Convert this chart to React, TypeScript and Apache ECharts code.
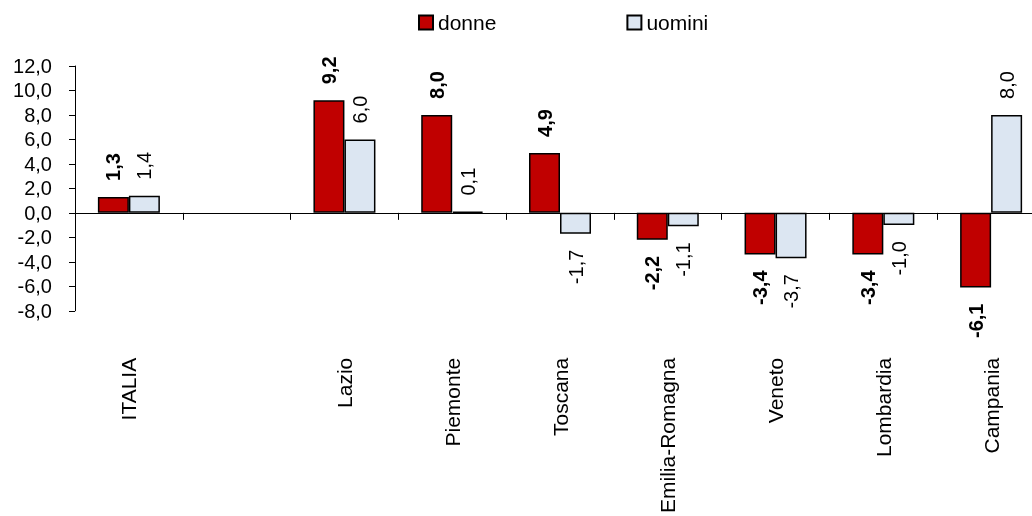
import React, { useEffect, useRef } from "react";
import * as echarts from "echarts";

const categories = ["ITALIA", "", "Lazio", "Piemonte", "Toscana", "Emilia-Romagna", "Veneto", "Lombardia", "Campania"];
const donne = [1.3, null, 9.2, 8.0, 4.9, -2.2, -3.4, -3.4, -6.1];
const uomini = [1.4, null, 6.0, 0.1, -1.7, -1.1, -3.7, -1.0, 8.0];
const seriesNames = ["donne", "uomini"];
const yMin = -8;
const yMax = 12;
const yStep = 2;

const FONT = "'Liberation Sans', Arial, sans-serif";
const fmt = (v: number) => v.toFixed(1).replace(".", ",");

function buildData(values: (number | null)[]) {
  return values.map((v) => {
    if (v === null) return null;
    const pos = v >= 0;
    return {
      value: v,
      label: {
        position: pos ? "top" : "bottom",
        align: pos ? "left" : "right",
        verticalAlign: "middle",
      },
    };
  });
}

export default function App() {
  const ref = useRef<HTMLDivElement>(null);
  useEffect(() => {
    if (!ref.current) return;
    const chart = echarts.init(ref.current, null, { renderer: "svg" });
    const labelBase = {
      show: true,
      rotate: 90,
      distance: 16,
      fontSize: 20,
      color: "#000",
      fontFamily: FONT,
      formatter: (p: any) => fmt(p.value),
    };
    chart.setOption({
      animation: false,
      textStyle: { fontFamily: FONT },
      legend: {
        data: seriesNames,
        left: 413,
        top: 7,
        icon: "rect",
        itemWidth: 14,
        itemHeight: 14,
        itemGap: 130,
        textStyle: { fontSize: 21, color: "#000", fontFamily: FONT },
      },
      grid: { left: 75, right: 0, top: 66, bottom: 199, containLabel: false },
      xAxis: [
        {
          type: "category",
          data: categories,
          boundaryGap: true,
          axisLine: { show: true, onZero: true, lineStyle: { color: "#000", width: 1 } },
          axisTick: { show: true, length: 7, interval: 0, alignWithLabel: false, lineStyle: { color: "#000" } },
          axisLabel: { show: false },
          splitLine: { show: false },
        },
        {
          type: "category",
          data: categories,
          position: "bottom",
          axisLine: { show: false, onZero: false },
          axisTick: { show: false },
          axisLabel: {
            show: true,
            interval: 0,
            rotate: 90,
            margin: 47,
            fontSize: 21,
            color: "#000",
            fontFamily: FONT,
          },
          splitLine: { show: false },
        },
      ],
      yAxis: {
        type: "value",
        min: yMin,
        max: yMax,
        interval: yStep,
        axisLine: { show: true, lineStyle: { color: "#000", width: 1 } },
        axisTick: { show: true, length: 6, lineStyle: { color: "#000" } },
        axisLabel: {
          fontSize: 20,
          color: "#000",
          margin: 23,
          fontFamily: FONT,
          formatter: (v: number) => fmt(v),
        },
        splitLine: { show: false },
      },
      series: [
        {
          name: seriesNames[0],
          type: "bar",
          xAxisIndex: 0,
          data: buildData(donne),
          barWidth: 31,
          barGap: "0%",
          itemStyle: { color: "#C00000", borderColor: "#000", borderWidth: 1.5 },
          label: { ...labelBase, fontWeight: "bold" },
        },
        {
          name: seriesNames[1],
          type: "bar",
          xAxisIndex: 0,
          data: buildData(uomini),
          barWidth: 31,
          barGap: "0%",
          itemStyle: { color: "#DCE6F2", borderColor: "#000", borderWidth: 1.5 },
          label: { ...labelBase, fontWeight: "normal" },
        },
      ],
    });
    return () => chart.dispose();
  }, []);
  return (
    <div
      ref={ref}
      style={{ position: "fixed", left: 0, top: 0, width: 1045, height: 516 }}
    />
  );
}
